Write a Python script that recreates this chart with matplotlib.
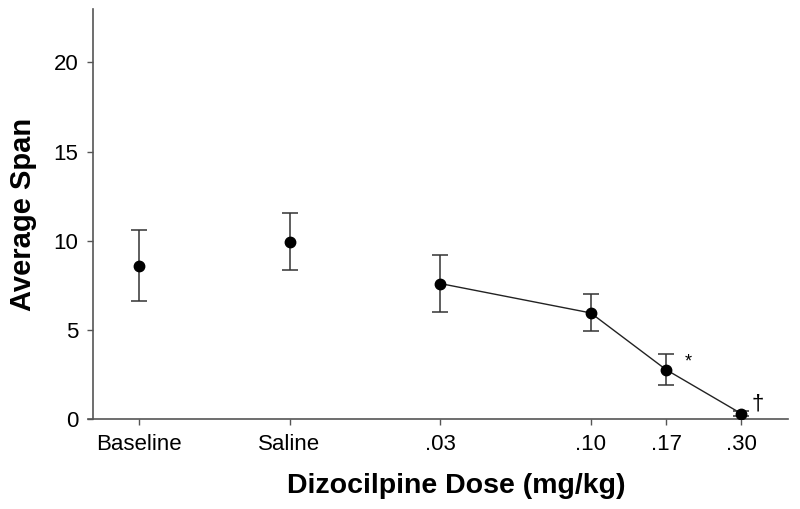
import matplotlib.pyplot as plt

plt.rcParams['font.family'] = ['Liberation Sans', 'DejaVu Sans']

# data
labels = ['Baseline', 'Saline', '.03', '.10', '.17', '.30']
xpos = [0, 1, 2, 3, 3.5, 4]
means = [8.6, 9.95, 7.6, 5.95, 2.77, 0.3]
errs = [2.0, 1.6, 1.62, 1.04, 0.89, 0.15]
marks = {4: '*', 5: '\u2020'}

fig = plt.figure(figsize=(8, 5.09), dpi=100)
ax = fig.add_axes([93 / 800, 90 / 509, 695 / 800, 410 / 509])

ax.errorbar(xpos, means, yerr=errs, fmt='o', color='black', ms=7.5,
            ecolor='#333333', elinewidth=1.1, capsize=5.5, capthick=1.1, zorder=3)
# only dose points are joined
ax.plot(xpos[2:], means[2:], color='#222222', lw=1.0, zorder=2)

ax.annotate(marks[4], (xpos[4], means[4]), xytext=(22, 8), textcoords='offset pixels',
            fontsize=13, ha='center', va='center')
ax.annotate(marks[5], (xpos[5], means[5]), xytext=(16, 10), textcoords='offset pixels',
            fontsize=16, ha='center', va='center')

ax.set_xlim(-0.305, 4.31)
ax.set_ylim(0, 23)
ax.set_xticks(xpos)
ax.set_xticklabels(labels)
ax.set_yticks([0, 5, 10, 15, 20])

for s in ['top', 'right']:
    ax.spines[s].set_visible(False)
for s in ['left', 'bottom']:
    ax.spines[s].set_color('#555555')
    ax.spines[s].set_linewidth(1.2)
ax.spines['bottom'].set_bounds(-0.34, 4.31)

ax.tick_params(direction='out', length=4.5, width=1.0, color='#555555', labelsize=16, pad=6)

ax.set_ylabel('Average Span', fontsize=21, fontweight='bold', labelpad=12)
fig.text(456 / 800, 16 / 509, 'Dizocilpine Dose (mg/kg)', fontsize=20.5,
         fontweight='bold', ha='center', va='baseline')

fig.savefig('out.png', dpi=100)
